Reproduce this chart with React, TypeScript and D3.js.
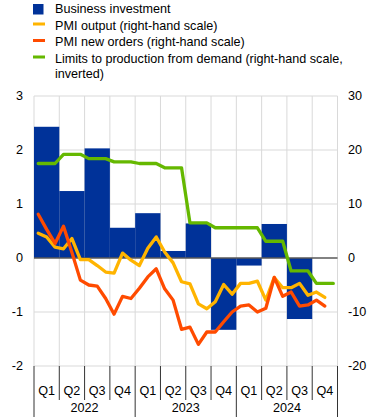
import React, { useEffect, useRef } from "react";
import * as d3 from "d3";

// quarters and years on the x axis
const quarterLabels = ["Q1", "Q2", "Q3", "Q4", "Q1", "Q2", "Q3", "Q4", "Q1", "Q2", "Q3", "Q4"];
const yearLabels = ["2022", "2023", "2024"];

// business investment, quarterly (left-hand scale)
const businessInvestment: (number | null)[] = [
  2.43, 1.24, 2.03, 0.56, 0.83, 0.13, 0.64, -1.33, -0.14, 0.63, -1.13, null,
];

// PMI output, monthly Jan 2022 - Nov 2024 (right-hand scale)
const pmiOutput = [
  4.6, 3.9, 2.0, 1.7, 3.6, -0.3, -0.3, -1.4, -2.6, -2.8, 0.9, -0.4,
  -1.4, 1.8, 3.9, 1.1, -0.9, -4.4, -4.8, -8.5, -9.4, -8.1, -4.9, -6.7,
  -4.7, -4.7, -4.3, -7.8, -3.6, -5.5, -5.5, -4.7, -6.9, -6.3, -7.3,
];

// PMI new orders, monthly Jan 2022 - Nov 2024 (right-hand scale)
const pmiNewOrders = [
  8.1, 5.3, 2.7, 5.9, 1.0, -4.1, -5.0, -5.2, -7.5, -10.4, -7.1, -7.5,
  -5.6, -3.5, -2.0, -5.7, -7.8, -13.2, -12.8, -16.0, -13.7, -13.7, -11.8, -10.0,
  -8.9, -8.7, -10.0, -9.3, -3.6, -7.1, -6.3, -8.9, -8.7, -7.8, -8.9,
];

// limits to production from demand, monthly Jan 2022 - Dec 2024 (right-hand scale, already inverted)
const limitsDemand = [
  17.5, 17.5, 17.5, 19.2, 19.2, 19.2, 18.4, 18.4, 18.4, 17.8, 17.8, 17.8,
  17.5, 17.5, 17.5, 16.7, 16.7, 16.7, 6.5, 6.5, 6.5, 5.6, 5.6, 5.6,
  5.6, 5.6, 5.6, 3.1, 3.1, 3.1, -2.4, -2.4, -2.4, -4.7, -4.7, -4.7,
];

const leftTicks = [-2, -1, 0, 1, 2, 3];
const rightTicks = [-20, -10, 0, 10, 20, 30];

const legendItems = [
  { label: ["Business investment"], color: "#003299", kind: "box" },
  { label: ["PMI output (right-hand scale)"], color: "#ffb400", kind: "line" },
  { label: ["PMI new orders (right-hand scale)"], color: "#ff4b00", kind: "line" },
  {
    label: ["Limits to production from demand (right-hand scale,", "inverted)"],
    color: "#65b800",
    kind: "line",
  },
];

function drawChart(svgEl: SVGSVGElement) {
  const width = 370;
  const height = 417;
  const left = 34;
  const right = 337.5;
  const top = 96;
  const bottom = 366;
  const font = "'Liberation Sans', Arial, sans-serif";
  const fontSize = "12.6px";

  const svg = d3.select(svgEl);
  svg.selectAll("*").remove();
  svg.attr("width", width).attr("height", height);

  const xBand = d3
    .scaleBand<number>()
    .domain(d3.range(quarterLabels.length))
    .range([left, right])
    .padding(0);
  const xMonth = d3.scaleLinear().domain([0, quarterLabels.length * 3]).range([left, right]);
  const yLeft = d3.scaleLinear().domain([-2, 3]).range([bottom, top]);
  const yRight = d3.scaleLinear().domain([-20, 30]).range([bottom, top]);

  // grid
  const grid = svg.append("g");
  leftTicks.forEach((t) => {
    if (t === 0) return;
    grid
      .append("line")
      .attr("x1", left)
      .attr("x2", right)
      .attr("y1", yLeft(t))
      .attr("y2", yLeft(t))
      .attr("stroke", "#d9d9d9")
      .attr("stroke-width", 1);
  });
  d3.range(quarterLabels.length + 1).forEach((i) => {
    const x = i < quarterLabels.length ? xBand(i)! : right;
    grid
      .append("line")
      .attr("x1", x)
      .attr("x2", x)
      .attr("y1", top)
      .attr("y2", bottom)
      .attr("stroke", "#d9d9d9")
      .attr("stroke-width", 1);
  });

  // bars
  svg
    .append("g")
    .selectAll("rect")
    .data(businessInvestment.map((v, i) => ({ v, i })).filter((d) => d.v !== null))
    .enter()
    .append("rect")
    .attr("x", (d) => xBand(d.i)!)
    .attr("width", xBand.bandwidth())
    .attr("y", (d) => Math.min(yLeft(d.v as number), yLeft(0)))
    .attr("height", (d) => Math.abs(yLeft(d.v as number) - yLeft(0)))
    .attr("fill", "#003299");

  // zero line
  svg
    .append("line")
    .attr("x1", left)
    .attr("x2", right)
    .attr("y1", yLeft(0))
    .attr("y2", yLeft(0))
    .attr("stroke", "#595959")
    .attr("stroke-width", 1.3);

  // lines
  const line = d3
    .line<number>()
    .x((_, i) => xMonth(i + 0.5))
    .y((d) => yRight(d));

  const series: [number[], string][] = [
    [pmiOutput, "#ffb400"],
    [pmiNewOrders, "#ff4b00"],
    [limitsDemand, "#65b800"],
  ];
  series.forEach(([data, color]) => {
    svg
      .append("path")
      .datum(data)
      .attr("d", line)
      .attr("fill", "none")
      .attr("stroke", color)
      .attr("stroke-width", 3.3)
      .attr("stroke-linejoin", "round")
      .attr("stroke-linecap", "round");
  });

  // y tick labels
  leftTicks.forEach((t) => {
    svg
      .append("text")
      .attr("x", 23)
      .attr("y", yLeft(t))
      .attr("dy", "0.35em")
      .attr("text-anchor", "end")
      .style("font-family", font)
      .style("font-size", fontSize)
      .attr("fill", "#000")
      .text(t);
  });
  rightTicks.forEach((t) => {
    svg
      .append("text")
      .attr("x", 348)
      .attr("y", yRight(t))
      .attr("dy", "0.35em")
      .attr("text-anchor", "start")
      .style("font-family", font)
      .style("font-size", fontSize)
      .attr("fill", "#000")
      .text(t);
  });

  // x axis: quarter separators and labels
  d3.range(quarterLabels.length + 1).forEach((i) => {
    const x = i < quarterLabels.length ? xBand(i)! : right;
    svg
      .append("line")
      .attr("x1", x)
      .attr("x2", x)
      .attr("y1", bottom)
      .attr("y2", i % 4 === 0 ? height : 400)
      .attr("stroke", "#333")
      .attr("stroke-width", 1);
  });
  quarterLabels.forEach((q, i) => {
    svg
      .append("text")
      .attr("x", xBand(i)! + xBand.bandwidth() / 2)
      .attr("y", 395)
      .attr("text-anchor", "middle")
      .style("font-family", font)
      .style("font-size", fontSize)
      .attr("fill", "#000")
      .text(q);
  });
  yearLabels.forEach((y, i) => {
    svg
      .append("text")
      .attr("x", xBand(i * 4)! + xBand.bandwidth() * 2)
      .attr("y", 412)
      .attr("text-anchor", "middle")
      .style("font-family", font)
      .style("font-size", fontSize)
      .attr("fill", "#000")
      .text(y);
  });

  // legend
  const legend = svg.append("g");
  const rowY = [9, 25.5, 42, 58.5];
  legendItems.forEach((item, i) => {
    if (item.kind === "box") {
      legend
        .append("rect")
        .attr("x", 33)
        .attr("y", rowY[i] - 5)
        .attr("width", 10.5)
        .attr("height", 10.5)
        .attr("fill", item.color);
    } else {
      legend
        .append("rect")
        .attr("x", 33)
        .attr("y", rowY[i] - 3)
        .attr("width", 12)
        .attr("height", 3)
        .attr("fill", item.color);
    }
    item.label.forEach((l, j) => {
      legend
        .append("text")
        .attr("x", 55)
        .attr("y", rowY[i] + j * 15.5)
        .attr("dy", "0.35em")
        .style("font-family", font)
        .style("font-size", fontSize)
        .attr("fill", "#000")
        .text(l);
    });
  });
}

const App = () => {
  const svgRef = useRef<SVGSVGElement>(null);
  useEffect(() => {
    if (svgRef.current) drawChart(svgRef.current);
  }, []);

  return (
    <div>
      <svg
        ref={svgRef}
        style={{ position: "fixed", left: 0, top: 0, background: "#fff", display: "block" }}
      />
    </div>
  );
};

export default App;
